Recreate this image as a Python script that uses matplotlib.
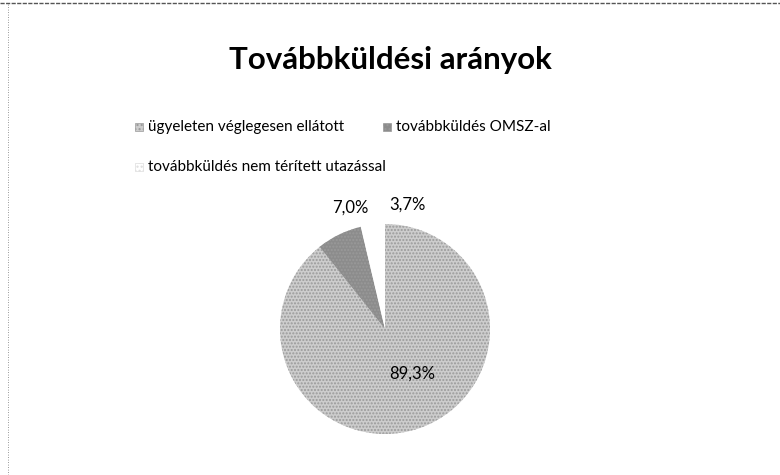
import numpy as np
import matplotlib.pyplot as plt
from matplotlib.patches import Rectangle
from matplotlib.lines import Line2D

plt.rcParams['font.family'] = ['Lato', 'DejaVu Sans']

cim = 'Továbbküldési arányok'
kategoriak = ['ügyeleten véglegesen ellátott', 'továbbküldés OMSZ-al',
              'továbbküldés nem térített utazással']
ertekek = [89.3, 7.0, 3.7]
cimkek = ['89,3%', '7,0%', '3,7%']
szinek = ['#cdcdcd', '#8c8c8c', '#ffffff']

W, H = 780, 475
fig = plt.figure(figsize=(W / 100, H / 100), dpi=100)

# keret (beszkennelt diagram szegélye)
fig.add_artist(Line2D([0, 1], [1 - 3 / H, 1 - 3 / H], color='#555555', lw=1.0, ls=(0, (3, 1))))
fig.add_artist(Line2D([8 / W, 8 / W], [0, 1 - 3 / H], color='#777777', lw=0.6, ls=(0, (1, 2))))

fig.text(390 / W, 1 - 60 / H, cim, ha='center', va='center', fontsize=22.5, fontweight='bold')

# jelmagyarázat
jm = [(135, 127), (383, 127), (135, 167)]
for (x, y), nev, szin in zip(jm, kategoriak, szinek):
    fig.add_artist(Rectangle((x / W, 1 - (y + 4) / H), 8 / W, 8 / H, facecolor=szin,
                             edgecolor='#999999' if szin != '#ffffff' else '#dddddd',
                             lw=0.5, hatch='....', transform=fig.transFigure))
    fig.text((x + 13) / W, 1 - y / H, nev, ha='left', va='center', fontsize=11)

# kördiagram
cx, cy, r = 385, 329, 105
ax = fig.add_axes([(cx - r) / W, (H - cy - r) / H, 2 * r / W, 2 * r / H])
wedges, _ = ax.pie(ertekek, colors=szinek, startangle=90, counterclock=False,
                   wedgeprops=dict(linewidth=0, edgecolor='#9a9a9a', hatch='.....'))
wedges[2].set_hatch(None)
ax.set_xlim(-1, 1)
ax.set_ylim(-1, 1)
ax.set_aspect('equal')
ax.axis('off')

tavolsag = [0.5, 1.2, 1.2]
eltolas = [12, -10, -17]
for w, t, d, e in zip(wedges, cimkek, tavolsag, eltolas):
    theta = np.deg2rad((w.theta1 + w.theta2) / 2 + e)
    ax.text(d * np.cos(theta), d * np.sin(theta), t, ha='center', va='center',
            fontsize=12, clip_on=False)

fig.savefig('out.png', dpi=100, facecolor='white')
